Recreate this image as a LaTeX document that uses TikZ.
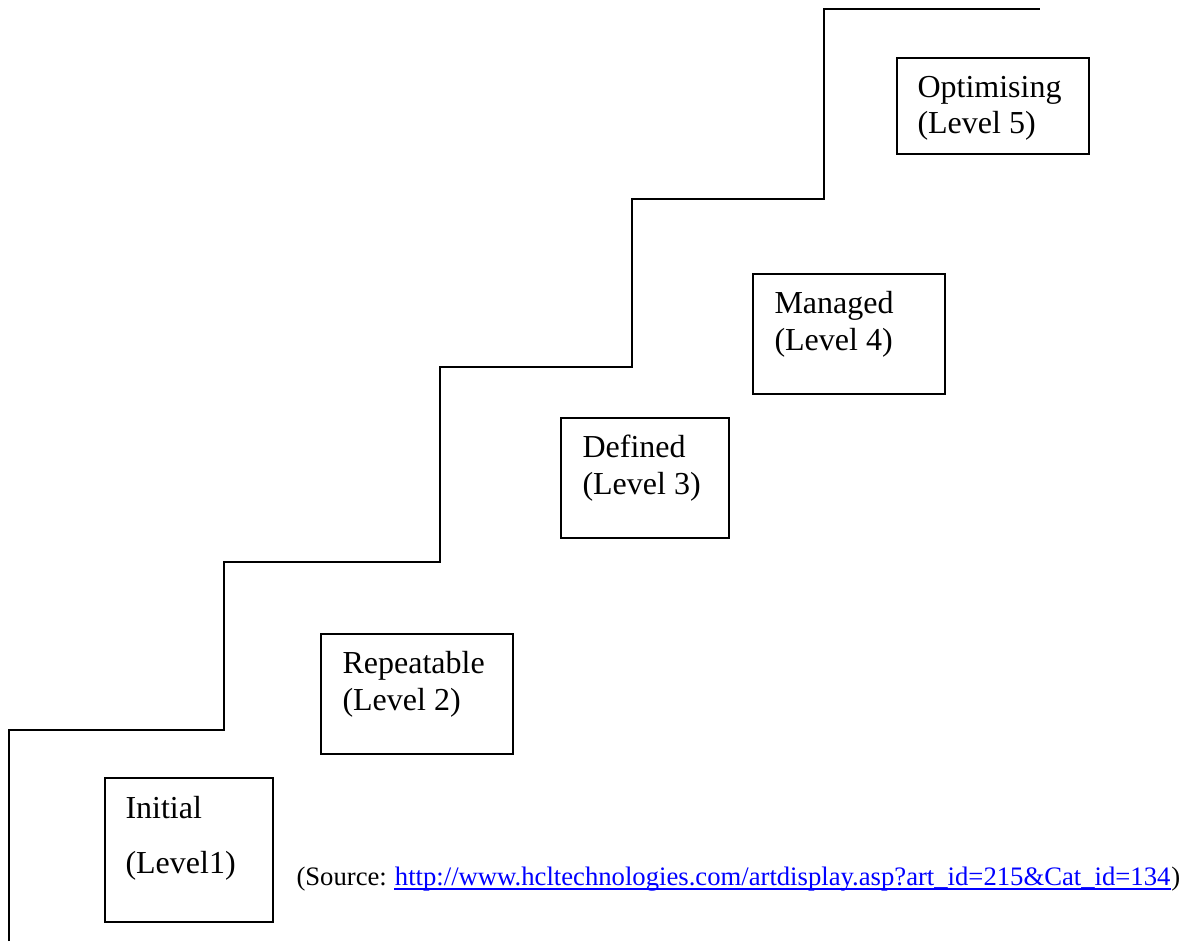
\documentclass[tikz,border=0pt]{standalone}
\usepackage{fontspec}
\setmainfont{Liberation Serif}
\usetikzlibrary{calc}
\begin{document}
\begin{tikzpicture}[x=0.375pt,y=-0.375pt,
  stair/.style={line width=1pt,line join=miter},
  levelbox/.style={draw,line width=0.8pt,anchor=north west,inner sep=0pt},
  lvltext/.style={anchor=base west,inner sep=0pt,font=\fontsize{12}{13.8}\selectfont},
  srctext/.style={anchor=base west,inner sep=0pt,font=\fontsize{10}{12}\selectfont}]
  \useasboundingbox (0,0) rectangle (1186,941);

  % staircase corners
  \coordinate (s0) at (9,941);
  \coordinate (s1) at (9,730);
  \coordinate (s2) at (224,730);
  \coordinate (s3) at (224,562);
  \coordinate (s4) at (440,562);
  \coordinate (s5) at (440,367);
  \coordinate (s6) at (632,367);
  \coordinate (s7) at (632,199);
  \coordinate (s8) at (824,199);
  \coordinate (s9) at (824,9);
  \coordinate (s10) at (1040,9);
  \draw[stair] (s0) -- (s1) -- (s2) -- (s3) -- (s4) -- (s5) -- (s6) -- (s7) -- (s8) -- (s9) -- (s10);

  % level boxes
  \node[levelbox,minimum width=63pt,minimum height=54pt] (b1) at (104,777) {};
  \node[levelbox,minimum width=72pt,minimum height=45pt] (b2) at (320,633) {};
  \node[levelbox,minimum width=63pt,minimum height=45pt] (b3) at (560,417) {};
  \node[levelbox,minimum width=72pt,minimum height=45pt] (b4) at (752,273) {};
  \node[levelbox,minimum width=72pt,minimum height=36pt] (b5) at (896,57) {};

  % level labels
  \node[lvltext] (t1a) at ($(b1.north west)+(21,41)$) {Initial};
  \node[lvltext] (t1b) at ($(t1a.base west)+(0,55)$) {(Level1)};
  \node[lvltext] (t2a) at ($(b2.north west)+(22,40)$) {Repeatable};
  \node[lvltext] (t2b) at ($(t2a.base west)+(0,37)$) {(Level 2)};
  \node[lvltext] (t3a) at ($(b3.north west)+(22,40)$) {Defined};
  \node[lvltext] (t3b) at ($(t3a.base west)+(0,37)$) {(Level 3)};
  \node[lvltext] (t4a) at ($(b4.north west)+(22,40)$) {Managed};
  \node[lvltext] (t4b) at ($(t4a.base west)+(0,37)$) {(Level 4)};
  \node[lvltext] (t5a) at ($(b5.north west)+(21,40)$) {Optimising};
  \node[lvltext] (t5b) at ($(t5a.base west)+(0,36)$) {(Level 5)};

  % source line
  \node[srctext] (srcA) at (296,885) {(Source:};
  \node[srctext,text=blue] (url) at ($(srcA.base east)+(7,0)$)
    {http://www.hcltechnologies.com/artdisplay.asp?art\_id=215\&Cat\_id=134};
  \node[srctext] (srcB) at (url.base east) {)};
  \draw[blue,line width=0.6pt] ($(url.base west)+(0,4)$) -- ($(url.base east)+(0,4)$);
\end{tikzpicture}
\end{document}
